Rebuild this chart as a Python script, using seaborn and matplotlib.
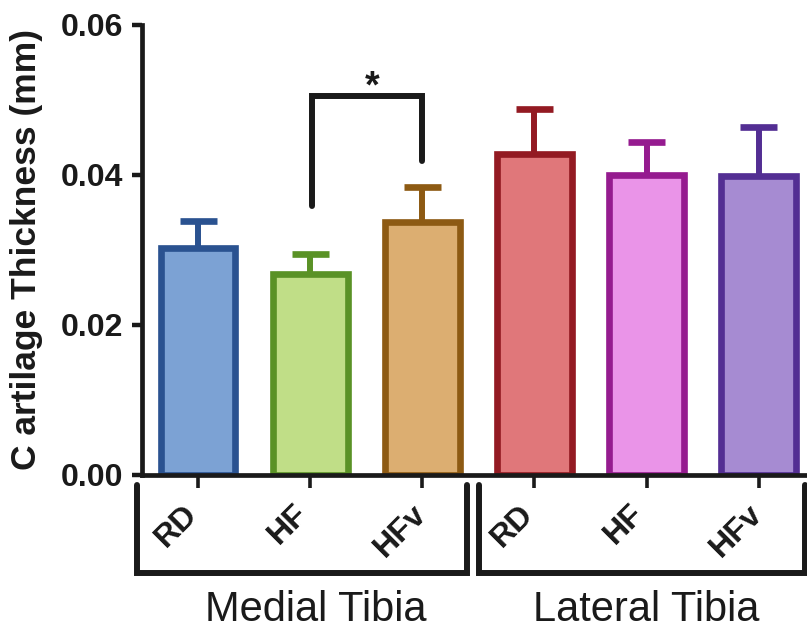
import numpy as np
import pandas as pd
import seaborn as sns
import matplotlib
matplotlib.use("Agg")
import matplotlib.pyplot as plt
from matplotlib.transforms import ScaledTranslation

# ---- data ----
groups = ["Medial Tibia", "Medial Tibia", "Medial Tibia",
          "Lateral Tibia", "Lateral Tibia", "Lateral Tibia"]
diets = ["RD", "HF", "HFv", "RD", "HF", "HFv"]
means = [0.0303, 0.0268, 0.0337, 0.0428, 0.0400, 0.0398]
sems = [0.0036, 0.0026, 0.0047, 0.0060, 0.0044, 0.0066]
fill_colors = ["#7ca2d4", "#c0de87", "#dcae71", "#e0777a", "#ea94e8", "#a68bd2"]
edge_colors = ["#2a5290", "#5a9226", "#8d5a13", "#931a22", "#951b8f", "#532e93"]
group_names = ["Medial Tibia", "Lateral Tibia"]
yticks = [0.00, 0.02, 0.04, 0.06]
ytick_labels = ["0.00", "0.02", "0.04", "0.06"]
sig_pair = (1, 2)
sig_text = "*"

keys = [f"{g} {d}" for g, d in zip(groups, diets)]
df = pd.DataFrame({"key": keys, "diet": diets, "group": groups, "value": means})

sns.set_theme(style="white")
ARIAL = ["Liberation Sans", "DejaVu Sans"]
plt.rcParams["font.family"] = ARIAL
INK = "#1a1a1a"

fig = plt.figure(figsize=(8.07, 6.26), dpi=100)
ax = fig.add_axes([142 / 807, 1 - 475 / 626, 1 - 142 / 807, (475 - 25) / 626])

sns.barplot(data=df, x="key", y="value", hue="key", palette=fill_colors,
            order=keys, hue_order=keys, legend=False, width=0.667,
            saturation=1, linewidth=4.8, errorbar=None, ax=ax, zorder=2)
for patch, ec in zip(ax.patches, edge_colors):
    patch.set_edgecolor(ec)
    patch.set_linewidth(4.8)

# error bars (upper only)
xs = np.arange(len(means))
capw = 0.165
for x, m, e, ec in zip(xs, means, sems, edge_colors):
    ax.vlines(x, m, m + e, color=ec, lw=4.3, zorder=1)
    ax.hlines(m + e, x - capw, x + capw, color=ec, lw=4.8, zorder=1)

ax.set_xlim(-0.5, 5.43)
ax.set_ylim(0, 0.06)
ax.set_yticks(yticks)
ax.set_yticklabels(ytick_labels)
ax.set_xticks(xs)
ax.set_xticklabels(diets)
ax.set_xlabel("")
ax.set_ylabel("C artilage Thickness (mm)", fontsize=25.5, fontweight="bold", color=INK)
ax.yaxis.set_label_coords(-0.149, 0.5)

for s in ["top", "right"]:
    ax.spines[s].set_visible(False)
for s in ["left", "bottom"]:
    ax.spines[s].set_linewidth(3.4)
    ax.spines[s].set_color(INK)
    ax.spines[s].set_zorder(5)

ax.tick_params(axis="y", direction="out", length=7.5, width=3.2, color=INK,
               pad=6, labelsize=23, labelcolor=INK, left=True)
ax.tick_params(axis="x", direction="out", length=9, width=2.6, color=INK,
               pad=8, labelsize=23, labelcolor=INK, bottom=True)
for lab in ax.get_yticklabels():
    lab.set_fontweight("bold")
offset = ScaledTranslation(-22 / 100, 0, fig.dpi_scale_trans)
for lab in ax.get_xticklabels():
    lab.set_fontweight("bold")
    lab.set_rotation(45)
    lab.set_ha("center")
    lab.set_transform(lab.get_transform() + offset)

# group brackets below the axis
yb_top = -0.00133
yb_bot = -0.01307
for (x0, x1) in [(-0.541, 2.40), (2.506, 5.414)]:
    ax.plot([x0, x0, x1, x1], [yb_top, yb_bot, yb_bot, yb_top], color=INK,
            lw=4.3, clip_on=False, solid_joinstyle="miter", zorder=5)
for name, xc in zip(group_names, [1.05, 4.0]):
    ax.text(xc, -0.0195, name, ha="center", va="baseline", fontsize=30,
            color=INK, clip_on=False)

# significance bracket
i, j = sig_pair
ytop = 0.0505
ax.plot([i + 0.02, i + 0.02, j, j], [0.0359, ytop, ytop, 0.0419], color=INK,
        lw=4.3, solid_joinstyle="miter", clip_on=False, zorder=5)
ax.text((i + j) / 2 + 0.05, 0.0503, sig_text, ha="center", va="baseline",
        fontsize=27, fontweight="bold", color=INK)

fig.savefig("out.png", dpi=100)
